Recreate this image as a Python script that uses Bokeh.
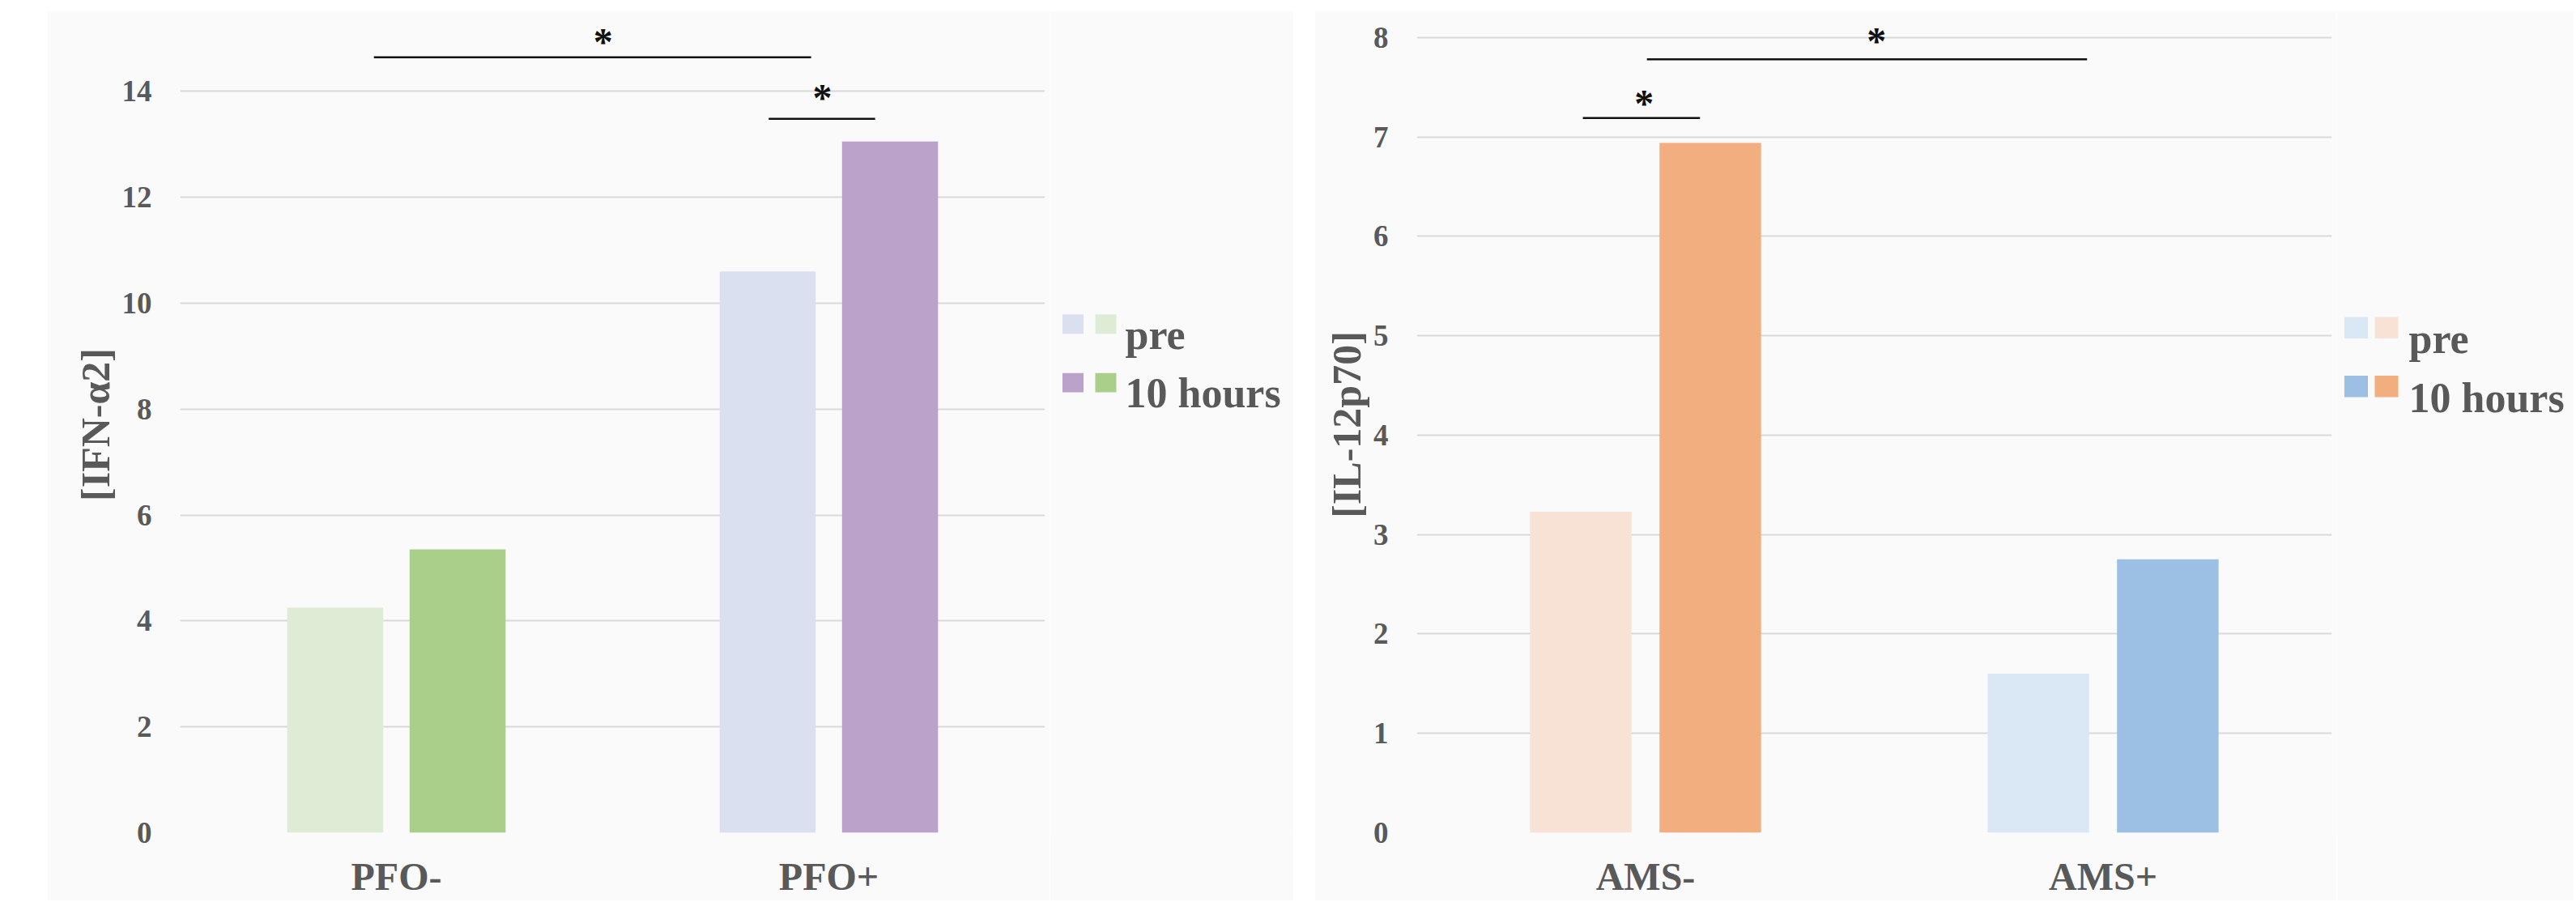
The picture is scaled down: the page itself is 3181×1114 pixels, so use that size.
from bokeh.plotting import figure
from bokeh.models import (FactorRange, Range1d, ColumnDataSource,
                          SingleIntervalTicker, Spacer)
from bokeh.layouts import row, column
from bokeh.transform import dodge
from bokeh.core.properties import value
from bokeh.embed import file_html
from bokeh.resources import INLINE

# ---------------- data ----------------
series_labels = ["pre", "10 hours"]

ifn_groups = ["PFO-", "PFO+"]
ifn_pre = [4.25, 10.6]
ifn_10h = [5.35, 13.05]
ifn_ylabel = "[IFN-α2]"
ifn_sig_x0 = [0.448, 1.361]
ifn_sig_x1 = [1.459, 1.607]
ifn_sig_y = [14.64, 13.48]
ifn_star_x = [0.978, 1.485]
ifn_star_y = [15.0, 13.94]

il_groups = ["AMS-", "AMS+"]
il_pre = [3.23, 1.60]
il_10h = [6.94, 2.75]
il_ylabel = "[IL-12p70]"
il_sig_x0 = [0.363, 0.503]
il_sig_x1 = [0.619, 1.465]
il_sig_y = [7.19, 7.78]
il_star_x = [0.497, 1.005]
il_star_y = [7.37, 8.0]

# ---------------- style ----------------
ifn_pre_colors = ["#DEEBD5", "#DAE0EF"]
ifn_10h_colors = ["#A9CF8A", "#BBA2CB"]
il_pre_colors = ["#F8E2D6", "#DAE8F5"]
il_10h_colors = ["#F2AE7E", "#9BC0E4"]

FONT = "Liberation Serif"
TEXT_COL = "#595959"
PANEL = "#fafafa"
FIG_H = 1099


def make_chart(groups, pre, post, pre_col, post_col, y_end, step, ylabel,
               width, left, sx0, sx1, sy, tx, ty):
    p = figure(x_range=FactorRange(factors=groups, range_padding=0),
               y_range=Range1d(0, y_end), width=width, height=FIG_H,
               output_backend="svg", toolbar_location=None,
               min_border_left=left, min_border_right=6,
               min_border_top=7, min_border_bottom=84)
    p.background_fill_color = PANEL
    p.border_fill_color = PANEL
    p.outline_line_color = None

    src = ColumnDataSource(dict(g=groups, pre=pre, post=post, cpre=pre_col, cpost=post_col))
    p.vbar(x=dodge("g", -0.1415, range=p.x_range), top="pre", width=0.222,
           source=src, fill_color="cpre", line_color=None)
    p.vbar(x=dodge("g", 0.1415, range=p.x_range), top="post", width=0.222,
           source=src, fill_color="cpost", line_color=None)

    # significance brackets
    p.segment(x0=sx0, y0=sy, x1=sx1, y1=sy, line_color="#111111", line_width=2.5)
    p.text(x=tx, y=ty, text=["*"] * len(tx), text_font=value(FONT), text_font_style="bold",
           text_font_size="48px", text_color="#111111", text_align="center",
           text_baseline="middle", y_offset=4)

    # axes
    p.xgrid.grid_line_color = None
    p.ygrid.grid_line_color = "#d9d9d9"
    p.ygrid.grid_line_width = 2
    p.yaxis.ticker = SingleIntervalTicker(interval=step)
    p.ygrid.ticker = SingleIntervalTicker(interval=step)
    for ax in (p.xaxis[0], p.yaxis[0]):
        ax.axis_line_color = None
        ax.major_tick_line_color = None
        ax.minor_tick_line_color = None
        ax.major_tick_out = 0
        ax.major_tick_in = 0
        ax.major_label_text_font = FONT
        ax.major_label_text_font_style = "bold"
        ax.major_label_text_color = TEXT_COL
    p.yaxis.major_label_text_font_size = "37px"
    p.yaxis.major_label_standoff = 31
    p.xaxis.major_label_text_font_size = "48px"
    p.xaxis.major_label_standoff = 27
    p.yaxis.axis_label = ylabel
    p.yaxis.axis_label_text_font = FONT
    p.yaxis.axis_label_text_font_style = "bold"
    p.yaxis.axis_label_text_font_size = "50px"
    p.yaxis.axis_label_text_color = TEXT_COL
    p.yaxis.axis_label_standoff = 2
    return p


def make_legend(width, col1_colors, col2_colors, col_x, row_y, sq, text_x, text_y):
    # separate strip to the right of the chart holding the two-square legend
    lg = figure(width=width, height=FIG_H, x_range=Range1d(0, width),
                y_range=Range1d(FIG_H, 0), output_backend="svg",
                toolbar_location=None, x_axis_location=None, y_axis_location=None,
                min_border_left=0, min_border_right=0, min_border_top=0,
                min_border_bottom=0)
    lg.background_fill_color = PANEL
    lg.border_fill_color = PANEL
    lg.outline_line_color = None
    lg.grid.visible = False
    n = len(series_labels)
    lg.rect(x=[col_x[0]] * n, y=row_y, width=sq, height=sq,
            fill_color=col1_colors, line_color=None)
    lg.rect(x=[col_x[1]] * n, y=row_y, width=sq, height=sq,
            fill_color=col2_colors, line_color=None)
    lg.text(x=[text_x] * n, y=text_y, text=series_labels, text_font=value(FONT),
            text_font_style="bold", text_font_size="52px", text_color=TEXT_COL,
            text_align="left", text_baseline="alphabetic")
    return lg


left = make_chart(ifn_groups, ifn_pre, ifn_10h, ifn_pre_colors, ifn_10h_colors,
                  15.41, 2, ifn_ylabel, 1238, 164,
                  ifn_sig_x0, ifn_sig_x1, ifn_sig_y, ifn_star_x, ifn_star_y)
left_leg = make_legend(301,
                       [ifn_pre_colors[1], ifn_10h_colors[1]],
                       [ifn_pre_colors[0], ifn_10h_colors[0]],
                       [28.5, 69], [414, 493], 26, 93, [429, 507])

right = make_chart(il_groups, il_pre, il_10h, il_pre_colors, il_10h_colors,
                   8.21, 1, il_ylabel, 1262, 126,
                   il_sig_x0, il_sig_x1, il_sig_y, il_star_x, il_star_y)
right_leg = make_legend(293,
                        [il_pre_colors[1], il_10h_colors[1]],
                        [il_pre_colors[0], il_10h_colors[0]],
                        [24, 61.5], [419, 498], 29, 89, [434, 513])

layout = column(Spacer(height=13),
                row(Spacer(width=58), left, left_leg, Spacer(width=26), right, right_leg))

open("out.html", "w").write(file_html(layout, INLINE))
